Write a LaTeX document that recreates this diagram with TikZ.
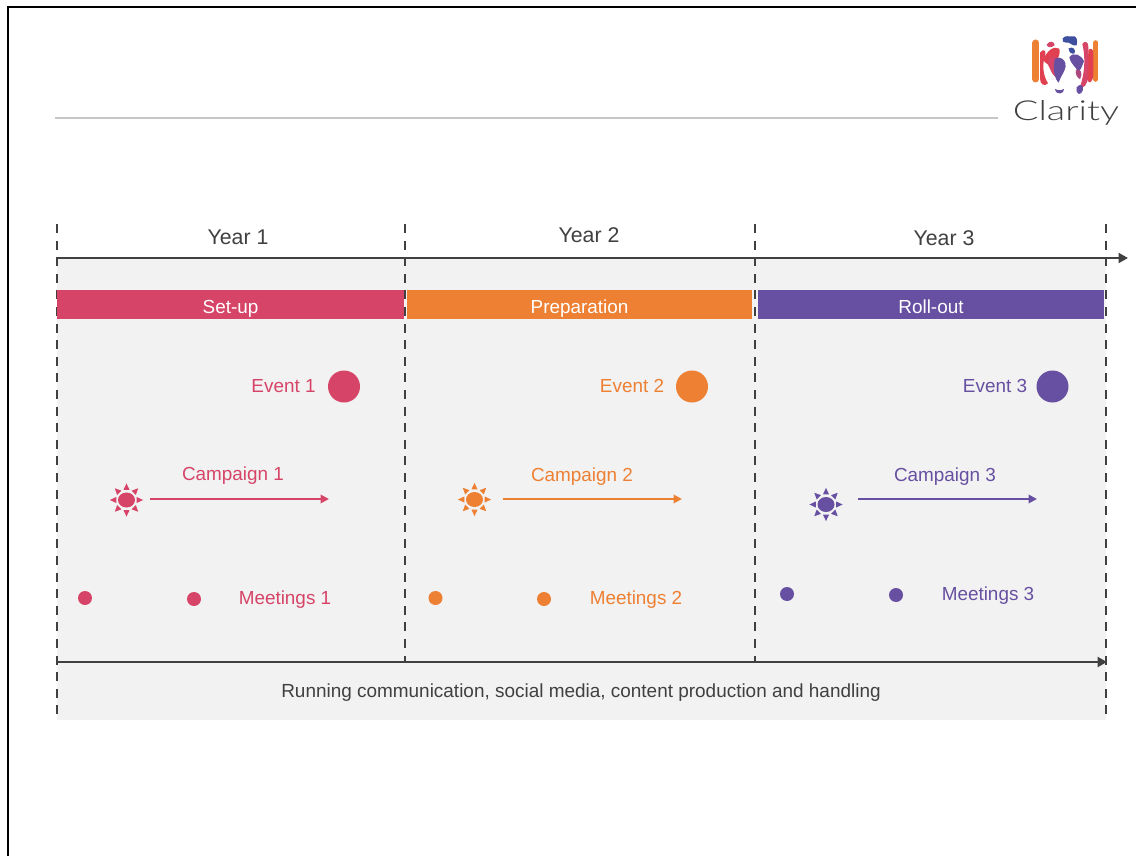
\documentclass[tikz,border=0pt]{standalone}
\usepackage{fontspec}
\setmainfont{Liberation Sans}
\newfontfamily\logofont[FakeStretch=1.38]{Lato Light}
\usetikzlibrary{arrows.meta}
\definecolor{cpink}{HTML}{D64468}
\definecolor{corange}{HTML}{EE8033}
\definecolor{cpurple}{HTML}{674FA1}
\definecolor{cband}{HTML}{F2F2F2}
\definecolor{cdark}{HTML}{404040}
\definecolor{crule}{HTML}{C6C6C6}
\definecolor{cblue}{HTML}{3F4FA0}
\definecolor{cred}{HTML}{E0404F}
\tikzset{
  px/.style={x=1pt,y=-1pt},
  yearlabel/.style={font=\fontsize{21.3}{24}\selectfont,text=cdark,inner sep=0pt},
  barbox/.style={minimum height=29pt,inner sep=0pt,text=white,font=\fontsize{18.9}{22}\selectfont},
  lab/.style={font=\fontsize{18.9}{22}\selectfont,inner sep=0pt},
  bigdot/.style={circle,minimum size=32pt,inner sep=0pt},
  smalldot/.style={circle,minimum size=14pt,inner sep=0pt},
  divider/.style={draw=cdark,line width=2.2pt,dash pattern=on 9pt off 7.6pt},
  axis/.style={draw=cdark,line width=2.2pt,-{Triangle[length=9.5pt,width=10pt]}},
  camp/.style={line width=2pt,-{Triangle[length=8.5pt,width=8.5pt]}},
  orangebar/.style={draw=corange,line cap=round,line width=7pt},
}
\newcommand{\sunshape}[3]{%
  \begin{scope}[shift={(#1,#2)}]
    \fill[#3] (0,0) ellipse (8.5pt and 7.5pt);
    \foreach \a in {0,45,...,315}{
      \fill[#3,rotate=\a] (-3,-10.2) -- (3,-10.2) -- (0,-16.6) -- cycle;
    }
  \end{scope}}
\newcommand{\barlabel}[1]{\raisebox{-8.5pt}[0pt][0pt]{#1}}
\begin{document}
\begin{tikzpicture}[px]
\useasboundingbox (0,0) rectangle (1136,856);
\fill[white] (0,0) rectangle (1136,856);
% frame
\draw[black,line width=1.9pt] (8,856) -- (8,7) -- (1136,7);
% header rule
\coordinate (ruleA) at (55,118);
\coordinate (ruleB) at (998,118);
\draw[crule,line width=2.6pt] (ruleA) -- (ruleB);
% band
\fill[cband] (57,258) rectangle (1106,719.5);
% dividers
\coordinate (d1t) at (57,224); \coordinate (d1b) at (57,716);
\coordinate (d2t) at (405,224); \coordinate (d2b) at (405,661);
\coordinate (d3t) at (755,224); \coordinate (d3b) at (755,661);
\coordinate (d4t) at (1106,224); \coordinate (d4b) at (1106,716);
\draw[divider] (d1t) -- (d1b);
\draw[divider] (d2t) -- (d2b);
\draw[divider] (d3t) -- (d3b);
\draw[divider] (d4t) -- (d4b);
% axes
\coordinate (axTopA) at (56,258);
\coordinate (axTopB) at (1128,258);
\coordinate (axBotA) at (56,662);
\coordinate (axBotB) at (1107,662);
\draw[axis] (axTopA) -- (axTopB);
\draw[axis] (axBotA) -- (axBotB);
% years
\node[yearlabel] (y1) at (238,237) {Year 1};
\node[yearlabel] (y2) at (589,235.5) {Year 2};
\node[yearlabel] (y3) at (944,238) {Year 3};
% bars
\node[barbox,fill=cpink,minimum width=347pt] (b1) at (230.5,304.5) {\barlabel{Set-up}};
\node[barbox,fill=corange,minimum width=345pt] (b2) at (579.5,304.5) {\barlabel{Preparation}};
\node[barbox,fill=cpurple,minimum width=346pt] (b3) at (931,304.5) {\barlabel{Roll-out}};
% events
\node[lab,text=cpink] (e1) at (283.5,386) {Event 1};
\node[lab,text=corange] (e2) at (632,386) {Event 2};
\node[lab,text=cpurple] (e3) at (995,386) {Event 3};
\node[bigdot,fill=cpink] (ed1) at (344,386.5) {};
\node[bigdot,fill=corange] (ed2) at (692,386.5) {};
\node[bigdot,fill=cpurple] (ed3) at (1052.5,386.5) {};
% campaigns
\node[lab,text=cpink] (c1) at (233,476) {Campaign 1};
\node[lab,text=corange] (c2) at (582,477) {Campaign 2};
\node[lab,text=cpurple] (c3) at (945,477) {Campaign 3};
\sunshape{126.5}{500}{cpink}
\sunshape{474.5}{499.5}{corange}
\sunshape{826}{504.5}{cpurple}
\coordinate (a1s) at (150,499); \coordinate (a1e) at (329,499);
\coordinate (a2s) at (503,499); \coordinate (a2e) at (682,499);
\coordinate (a3s) at (858,499); \coordinate (a3e) at (1037,499);
\draw[camp,cpink] (a1s) -- (a1e);
\draw[camp,corange] (a2s) -- (a2e);
\draw[camp,cpurple] (a3s) -- (a3e);
% meetings
\node[smalldot,fill=cpink] (m11) at (85,598) {};
\node[smalldot,fill=cpink] (m12) at (194,599) {};
\node[smalldot,fill=corange] (m21) at (435.5,598) {};
\node[smalldot,fill=corange] (m22) at (544,599) {};
\node[smalldot,fill=cpurple] (m31) at (787,594) {};
\node[smalldot,fill=cpurple] (m32) at (896,595) {};
\node[lab,text=cpink] (ml1) at (285,600) {Meetings 1};
\node[lab,text=corange] (ml2) at (636,600) {Meetings 2};
\node[lab,text=cpurple] (ml3) at (988,596) {Meetings 3};
% running text
\node[inner sep=0pt,text=cdark,font=\fontsize{18.95}{22}\selectfont] (run) at (581,692.5) {Running communication, social media, content production and handling};
% logo
\begin{scope}[shift={(990,20)},x=0.3333pt,y=-0.3333pt]
  \draw[orangebar] (137.5,69) -- (137.5,177);
  \draw[orangebar,line width=5.6pt] (317,69) -- (317,177);
  \fill[cred] (150,98) .. controls (160,85) and (168,90) .. (166,105) .. controls (156,130) and (158,165) .. (174,190) .. controls (164,200) and (150,195) .. (150,175) -- cycle;
  \fill[cpink] (277,72) .. controls (285,60) and (295,66) .. (295,80) -- (295,170) .. controls (292,195) and (280,208) .. (270,200) .. controls (283,165) and (288,115) .. (277,72) -- cycle;
  \fill[cred] (295,90) .. controls (303,82) and (310,88) .. (310,100) -- (310,165) .. controls (308,188) and (296,194) .. (293,180) -- cycle;
  \fill[cpink] (170,74) .. controls (178,60) and (194,64) .. (194,76) .. controls (182,84) and (174,84) .. (170,74) -- cycle;
  \fill[cred] (160,120) .. controls (170,92) and (192,76) .. (208,86) .. controls (212,100) and (205,112) .. (200,122) .. controls (192,145) and (182,152) .. (178,142) .. controls (174,128) and (166,132) .. (160,120) -- cycle;
  \fill[cpink] (172,126) .. controls (184,104) and (198,106) .. (200,115) .. controls (204,140) and (202,165) .. (195,170) .. controls (182,160) and (178,136) .. (172,126) -- cycle;
  \fill[cpurple] (195,116) .. controls (210,106) and (230,120) .. (227,140) .. controls (222,160) and (212,168) .. (206,188) .. controls (196,180) and (186,150) .. (195,116) -- cycle;
  \fill[cblue] (218,55) .. controls (228,43) and (240,52) .. (245,49) .. controls (260,45) and (264,60) .. (260,76) .. controls (245,80) and (240,64) .. (228,68) .. controls (220,70) and (215,62) .. (218,55) -- cycle;
  \fill[cblue] (236,85) .. controls (248,78) and (258,88) .. (254,100) .. controls (245,104) and (236,97) .. (236,85) -- cycle;
  \fill[cpurple] (238,112) .. controls (250,94) and (274,104) .. (282,124) .. controls (274,142) and (272,156) .. (262,152) .. controls (256,138) and (243,134) .. (238,112) -- cycle;
  \fill[cpink!60!cpurple] (258,150) .. controls (274,144) and (279,160) .. (270,178) .. controls (260,172) and (255,160) .. (258,150) -- cycle;
  \fill[cpurple] (195,207) .. controls (205,212) and (212,212) .. (222,207) .. controls (224,222) and (198,228) .. (195,207) -- cycle;
  \fill[cpurple] (260,202) .. controls (267,190) and (282,194) .. (279,210) .. controls (274,228) and (256,226) .. (260,202) -- cycle;
\end{scope}
\node[inner sep=0pt,text=cdark,font=\logofont\fontsize{27.5}{32}\selectfont] (logo) at (1066,113) {Clarity};
\end{tikzpicture}
\end{document}
